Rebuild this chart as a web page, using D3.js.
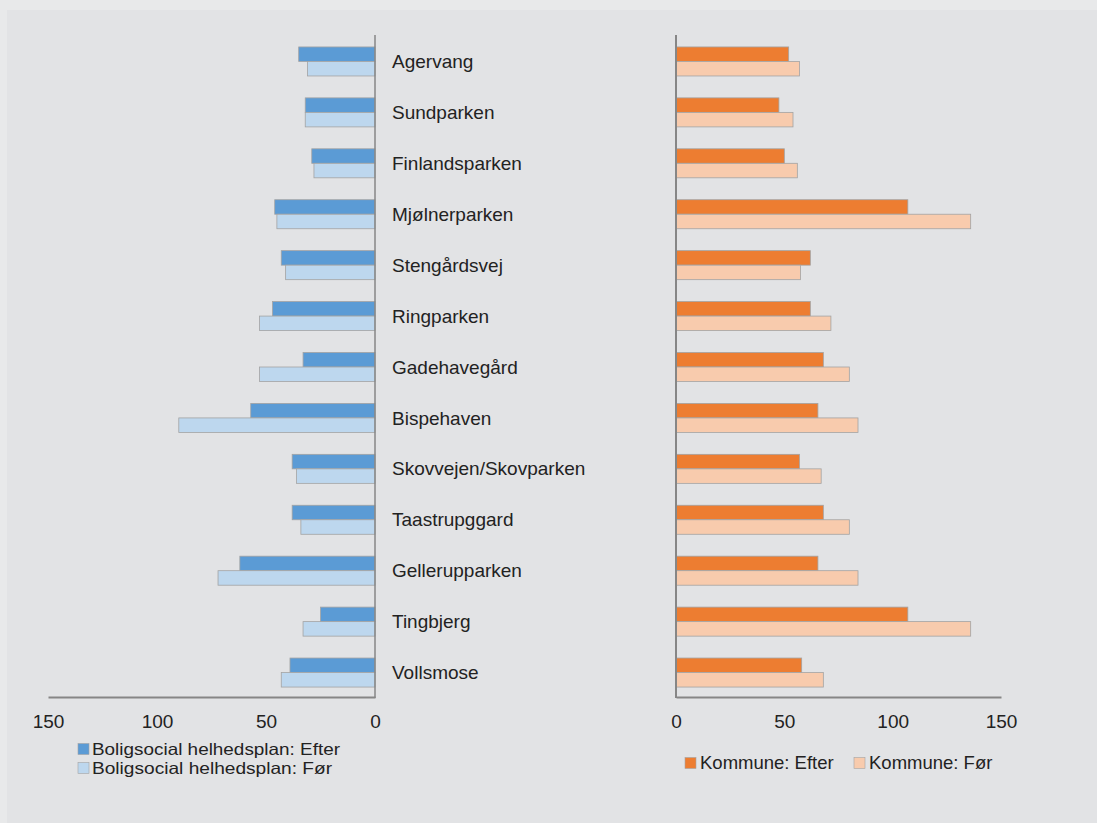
<!DOCTYPE html>
<html>
<head>
<meta charset="utf-8">
<script src="https://cdn.jsdelivr.net/npm/d3@7"></script>
<style>
html,body{margin:0;padding:0;background:#e8e9ea;}
svg{display:block;font-family:"Liberation Sans",Arial,sans-serif;}
</style>
</head>
<body>
<script>
const categories = ["Agervang","Sundparken","Finlandsparken","Mjølnerparken","Stengårdsvej","Ringparken","Gadehavegård","Bispehaven","Skovvejen/Skovparken","Taastrupggard","Gellerupparken","Tingbjerg","Vollsmose"];
const boligEfter = [35, 32, 29, 46, 43, 47, 33, 57, 38, 38, 62, 25, 39];
const boligFor   = [31, 32, 28, 45, 41, 53, 53, 90, 36, 34, 72, 33, 43];
const kommuneEfter = [52, 47.5, 50, 107, 62, 62, 68, 65.5, 57, 68, 65.5, 107, 58];
const kommuneFor   = [57, 54, 56, 136, 57.5, 71.5, 80, 84, 67, 80, 84, 136, 68];
const tickValues = [0, 50, 100, 150];
const seriesKeys = ["Efter", "Før"];
const legendLeft = ["Boligsocial helhedsplan: Efter", "Boligsocial helhedsplan: Før"];
const legendRight = ["Kommune: Efter", "Kommune: Før"];

const W = 1097, H = 823;
const svg = d3.select("body").append("svg").attr("width", W).attr("height", H);
svg.append("rect").attr("x", 7).attr("y", 10).attr("width", W - 7).attr("height", H - 10).attr("fill", "#e2e3e5");

const y = d3.scaleBand().domain(categories).range([36, 698]).paddingInner(0.43).paddingOuter(0.215);
const ySub = d3.scaleBand().domain(seriesKeys).range([0, y.bandwidth()]);
const xL = d3.scaleLinear().domain([0, 150]).range([375, 48]);
const xR = d3.scaleLinear().domain([0, 150]).range([676, 1001]);

const leftColors = {"Efter": "#5b9bd5", "Før": "#bdd7ee"};
const rightColors = {"Efter": "#ed7d31", "Før": "#f8cbad"};
const stroke = "#a3a3a3";

const rows = categories.map((c, i) => ({c, le: boligEfter[i], lf: boligFor[i], re: kommuneEfter[i], rf: kommuneFor[i]}));

// Left bars
const gL = svg.append("g");
rows.forEach(r => {
  [["Efter", r.le], ["Før", r.lf]].forEach(([k, v]) => {
    gL.append("rect")
      .attr("x", xL(v)).attr("y", y(r.c) + ySub(k))
      .attr("width", xL(0) - xL(v)).attr("height", ySub.bandwidth())
      .attr("fill", leftColors[k]).attr("stroke", stroke).attr("stroke-width", 0.8);
  });
});
// Right bars
const gR = svg.append("g");
rows.forEach(r => {
  [["Efter", r.re], ["Før", r.rf]].forEach(([k, v]) => {
    gR.append("rect")
      .attr("x", xR(0)).attr("y", y(r.c) + ySub(k))
      .attr("width", xR(v) - xR(0)).attr("height", ySub.bandwidth())
      .attr("fill", rightColors[k]).attr("stroke", stroke).attr("stroke-width", 0.8);
  });
});

// Axes
const axisColor = "#868686";
function styleAxis(g) {
  g.select(".domain").attr("stroke", axisColor).attr("stroke-width", 2);
  g.selectAll(".tick line").remove();
  g.selectAll(".tick text").attr("fill", "#222").attr("font-size", 19)
    .attr("font-family", "'Liberation Sans',Arial,sans-serif");
}
svg.append("g").attr("transform", "translate(0,697)")
  .call(d3.axisBottom(xL).tickValues(tickValues).tickFormat(d3.format("d")).tickSize(0).tickPadding(18))
  .call(styleAxis);
svg.append("g").attr("transform", "translate(0,697)")
  .call(d3.axisBottom(xR).tickValues(tickValues).tickFormat(d3.format("d")).tickSize(0).tickPadding(18))
  .call(styleAxis);
// vertical zero lines
svg.append("line").attr("x1", xL(0)).attr("x2", xL(0)).attr("y1", 35).attr("y2", 698)
  .attr("stroke", axisColor).attr("stroke-width", 1.5);
svg.append("line").attr("x1", xR(0)).attr("x2", xR(0)).attr("y1", 35).attr("y2", 698)
  .attr("stroke", axisColor).attr("stroke-width", 2);

// Category labels
svg.append("g").selectAll("text").data(categories).join("text")
  .attr("x", 392).attr("y", d => y(d) + y.bandwidth() / 2)
  .attr("dy", "0.35em").attr("font-size", 19).attr("fill", "#222")
  .text(d => d);

// Left legend
const lgL = svg.append("g");
const leftLens = [248, 240];
legendLeft.forEach((t, i) => {
  const cy = 749 + i * 19;
  lgL.append("rect").attr("x", 78).attr("y", cy - 5.5).attr("width", 11).attr("height", 11)
    .attr("fill", leftColors[seriesKeys[i]]).attr("stroke", stroke).attr("stroke-width", 0.6);
  lgL.append("text").attr("x", 92).attr("y", cy).attr("dy", "0.35em")
    .attr("font-size", 16.5).attr("fill", "#222")
    .attr("textLength", leftLens[i]).attr("lengthAdjust", "spacingAndGlyphs").text(t);
});
// Right legend
const lgR = svg.append("g");
const rxs = [685, 854];
legendRight.forEach((t, i) => {
  const cy = 763;
  lgR.append("rect").attr("x", rxs[i]).attr("y", cy - 5.5).attr("width", 11).attr("height", 11)
    .attr("fill", rightColors[seriesKeys[i]]).attr("stroke", stroke).attr("stroke-width", 0.6);
  lgR.append("text").attr("x", rxs[i] + 15).attr("y", cy).attr("dy", "0.35em")
    .attr("font-size", 18.5).attr("fill", "#222").text(t);
});
</script>
</body>
</html>
